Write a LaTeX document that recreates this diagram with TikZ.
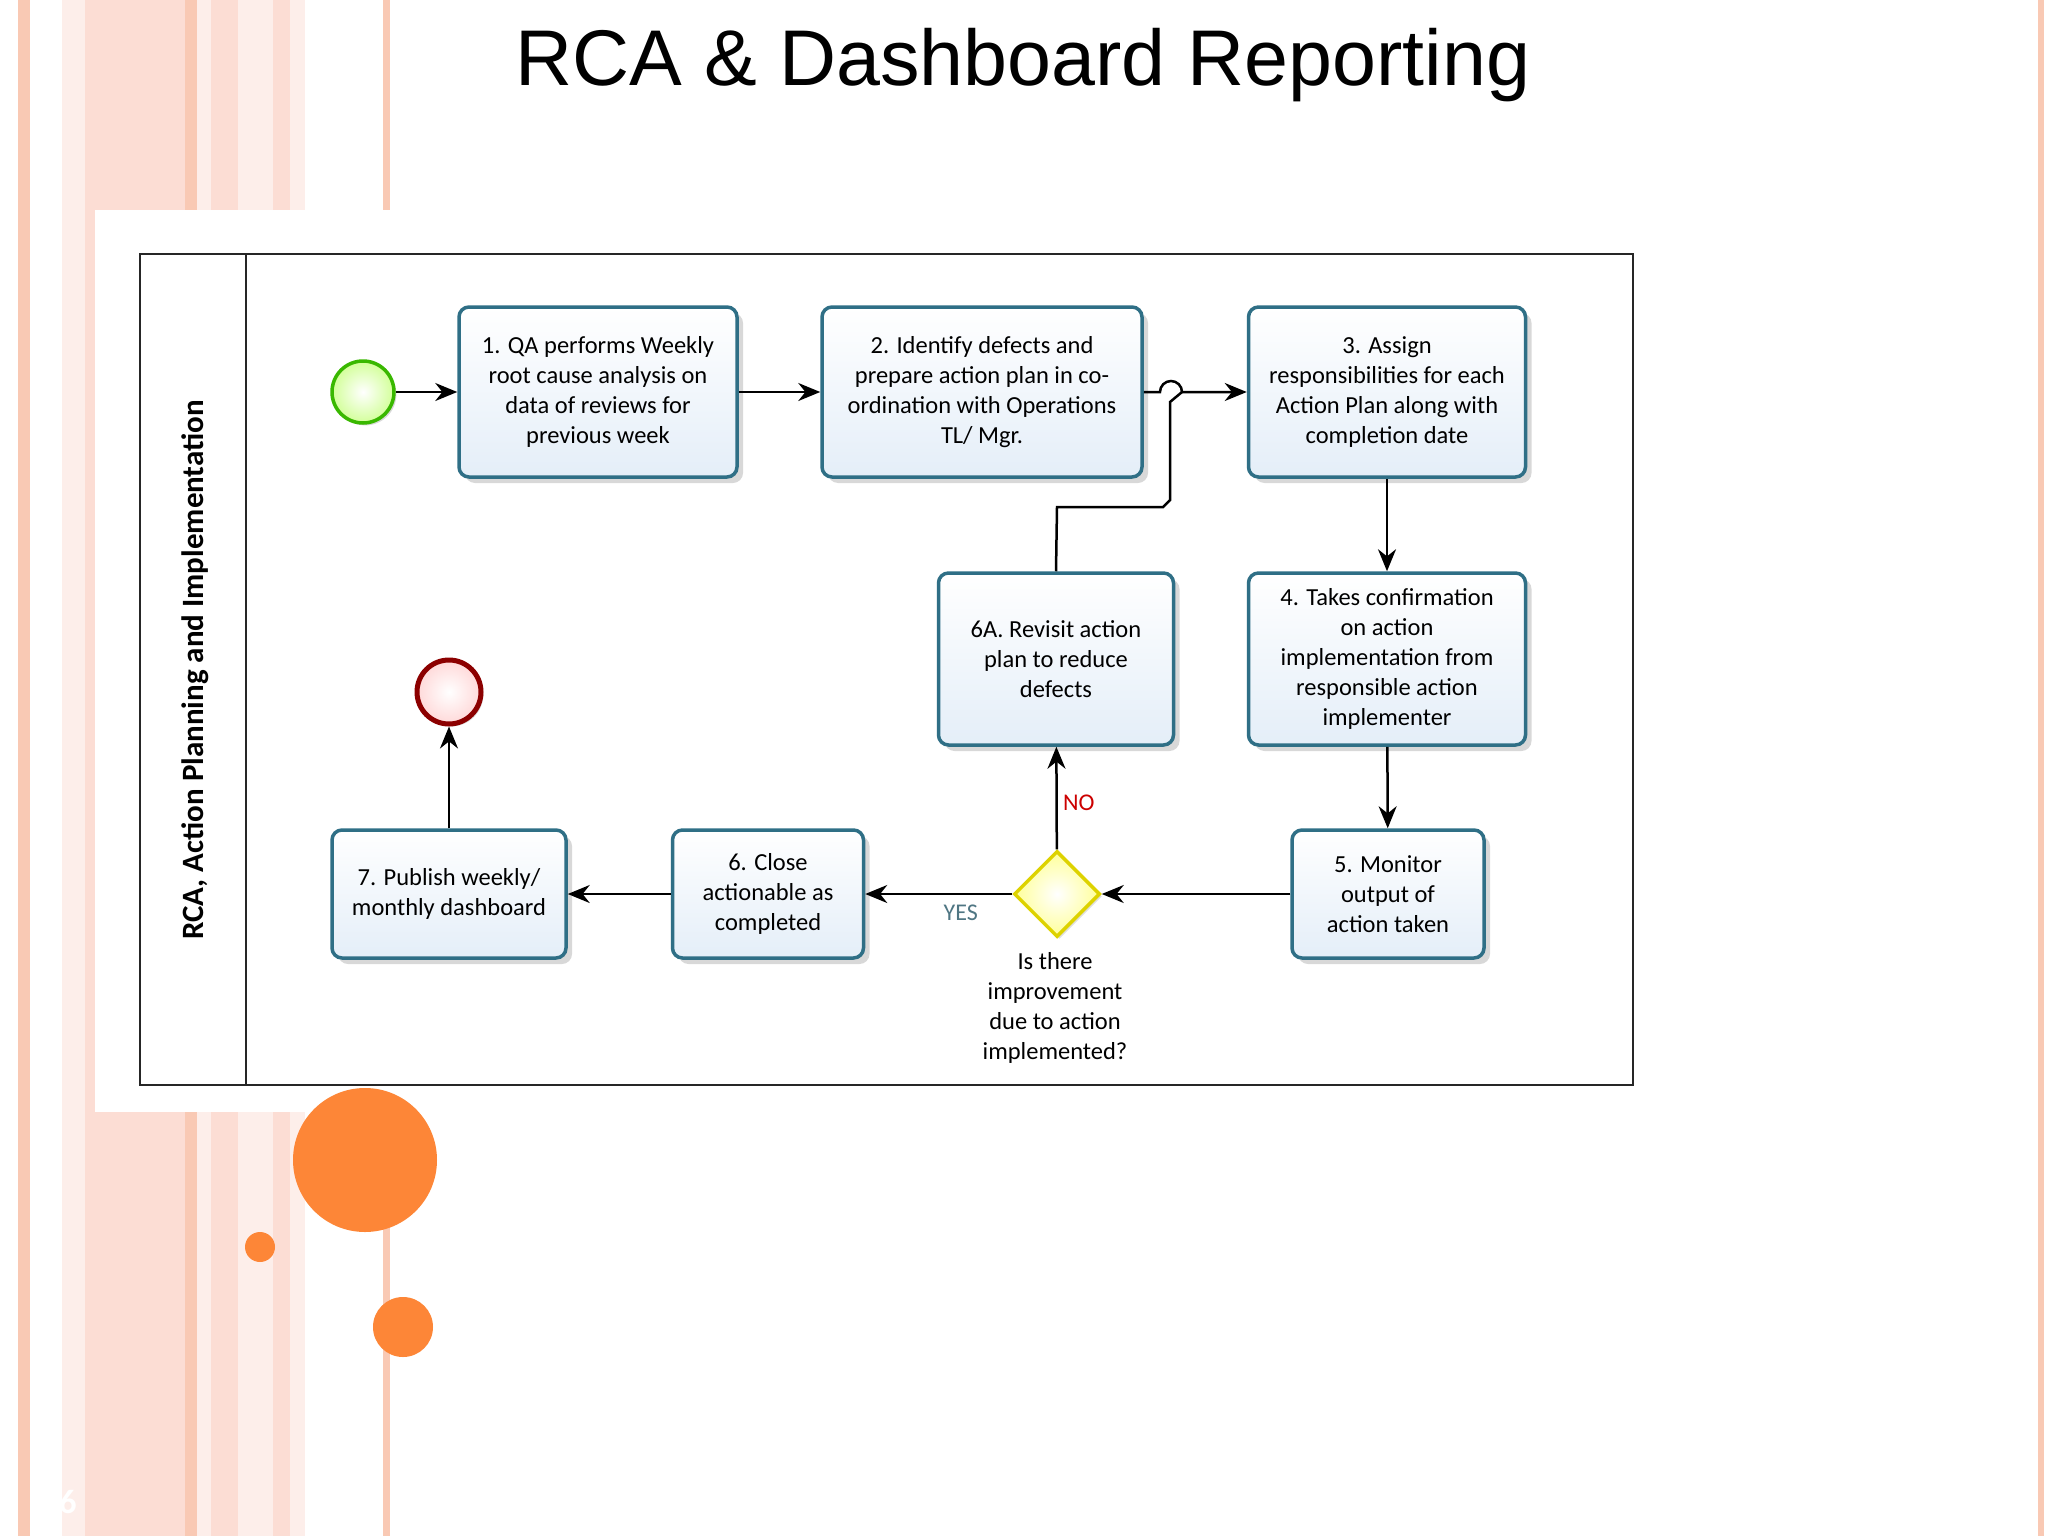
\documentclass[tikz,border=0pt]{standalone}
\usepackage{fontspec}
\setmainfont{Carlito}
\newfontfamily\titlefont{Liberation Sans}
\usetikzlibrary{arrows.meta,shapes.geometric,shadows}
\definecolor{stripeA}{HTML}{F9C9B4}
\definecolor{stripeB}{HTML}{FCDDD4}
\definecolor{stripeC}{HTML}{FDEEEA}
\definecolor{boxline}{HTML}{2F6F86}
\definecolor{boxfill}{HTML}{E4EEF8}
\definecolor{orng}{HTML}{FD8637}
\tikzset{
  box/.style={draw=boxline,line width=3.5pt,rounded corners=10pt,top color=white,bottom color=boxfill,
    drop shadow={shadow xshift=6pt,shadow yshift=-6pt,opacity=0.3},align=center,
    font=\fontsize{24.5}{30}\selectfont,inner sep=2pt},
  flow/.style={line width=2.5pt,-{Stealth[length=22pt,width=18pt]}},
}
\begin{document}
\begin{tikzpicture}[x=1pt,y=-1pt]
\useasboundingbox (0,0) rectangle (2048,1536);
\fill[white] (0,0) rectangle (2048,1536);
% stripes
\fill[stripeA] (18,0) rectangle (30,1536);
\fill[stripeC] (62,0) rectangle (85,1536);
\fill[stripeB] (85,0) rectangle (185,1536);
\fill[stripeA] (185,0) rectangle (197,1536);
\fill[stripeC] (197,0) rectangle (211,1536);
\fill[stripeB] (211,0) rectangle (238,1536);
\fill[stripeC] (238,0) rectangle (273,1536);
\fill[stripeB] (273,0) rectangle (290,1536);
\fill[stripeC] (290,0) rectangle (305,1536);
\fill[stripeA] (383,0) rectangle (390,1536);
\fill[stripeA] (2038,0) rectangle (2044,1536);
\node[text=white,font=\fontsize{34}{34}\selectfont\bfseries] (pg) at (68,1502) {6};
% panel
\fill[white] (95,210) rectangle (1640,1112);
% orange dots
\fill[orng] (365,1160) circle (72);
\fill[orng] (260,1247) circle (15);
\fill[orng] (403,1327) circle (30);
% title
\node[font=\titlefont\fontsize{79}{85}\selectfont] (title) at (1023,65) {RCA \& Dashboard Reporting};
% frame
\draw[line width=2.5pt,black!85] (140,254) rectangle (1633,1085);
\draw[line width=2.5pt,black!85] (246,254) -- (246,1085);
\node[rotate=90,font=\fontsize{31}{36}\selectfont\bfseries] (lane) at (195,670) {RCA, Action Planning and Implementation};
% events
\node[circle,minimum size=62pt,draw=green!60!black!70!lime,line width=3.5pt,inner color=white,outer color=green!25!lime!40,drop shadow={opacity=0.3}] (start) at (363,392) {};
\node[circle,minimum size=64pt,draw=red!55!black,line width=5pt,inner color=white,outer color=red!15,drop shadow={opacity=0.3}] (end) at (449,692) {};
% boxes
\node[box,minimum width=278pt,minimum height=170pt] (b1) at (598,392) {1. QA performs Weekly\\root cause analysis on\\data of reviews for\\previous week};
\node[box,minimum width=320pt,minimum height=170pt] (b2) at (982,392) {2. Identify defects and\\prepare action plan in co-\\ordination with Operations\\TL/ Mgr.};
\node[box,minimum width=277pt,minimum height=170pt] (b3) at (1387,392) {3. Assign\\responsibilities for each\\Action Plan along with\\completion date};
\node[box,minimum width=277pt,minimum height=172pt] (b4) at (1387,659) {4. Takes confirmation\\on action\\implementation from\\responsible action\\implementer};
\node[box,minimum width=235pt,minimum height=172pt] (b6a) at (1056,659) {6A. Revisit action\\plan to reduce\\defects};
\node[box,minimum width=192pt,minimum height=128pt] (b5) at (1388,894) {5. Monitor\\output of\\action taken};
\node[box,minimum width=191pt,minimum height=128pt] (b6) at (768,894) {6. Close\\actionable as\\completed};
\node[box,minimum width=234pt,minimum height=128pt] (b7) at (449,894) {7. Publish weekly/\\monthly dashboard};
\node[diamond,minimum width=86pt,minimum height=86pt,inner sep=0pt,draw=yellow!70!olive,line width=3.5pt,inner color=white,outer color=yellow!40,drop shadow={opacity=0.25}] (gw) at (1057,894) {};
\node[align=center,font=\fontsize{24.5}{30}\selectfont] (q) at (1055,1008) {Is there\\improvement\\due to action\\implemented?};
% connectors
\coordinate (hopL) at (1160,392);
\coordinate (hopR) at (1182,392);
\draw[flow] (start) -- (b1);
\draw[flow] (b1) -- (b2);
\draw[flow] (b2.east) -- (hopL) arc (180:360:11) -- (b3.west);
\draw[line width=2.5pt] (b6a.north) -- (1057,507) -- (1163,507) -- (1170,500) -- (1170,402) -- (hopR);
\draw[flow] (b3) -- (b4);
\draw[flow] (b4) -- (b5);
\draw[flow] (b5) -- (gw);
\draw[flow] (gw) -- node[pos=0.35,below=6pt,text=boxline!60!gray,font=\fontsize{24}{26}\selectfont] (yes) {YES} (b6);
\draw[flow] (gw) -- node[pos=0.45,right=2pt,text=red!80!black,font=\fontsize{24}{26}\selectfont] (no) {NO} (b6a);
\draw[flow] (b6) -- (b7);
\draw[flow] (b7) -- (end);
\end{tikzpicture}
\end{document}
